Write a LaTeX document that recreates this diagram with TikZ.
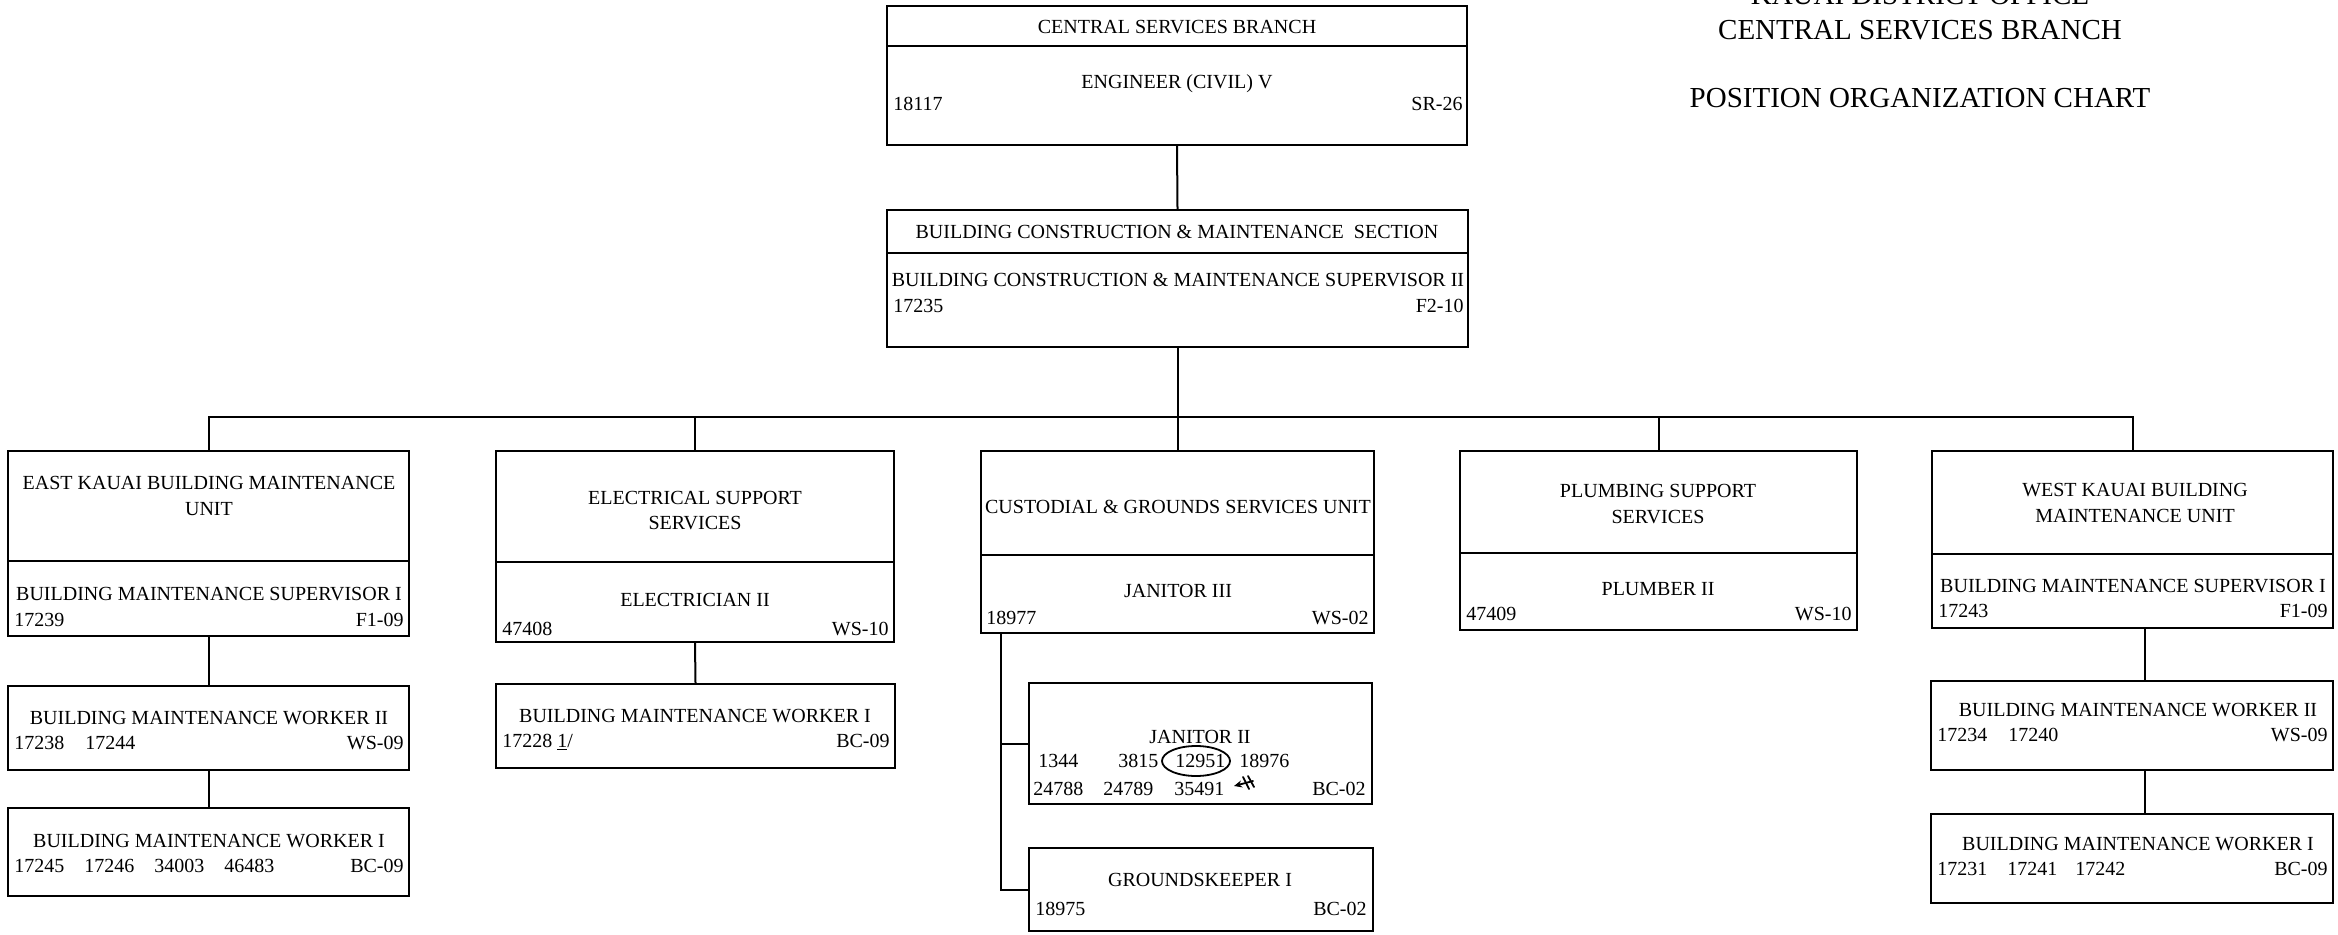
\documentclass[tikz,border=0pt]{standalone}
\usepackage{fontspec}
\setmainfont{Liberation Serif}
\usetikzlibrary{fit,arrows.meta}
\newcommand{\numgap}[1]{\hspace*{#1pt}}
\begin{document}
\begin{tikzpicture}[x=0.5pt,y=-0.5pt,
  box/.style={draw, line width=1.1pt, inner sep=0pt},
  rule/.style={line width=1.1pt},
  link/.style={line width=1pt},
  txt/.style={font=\fontsize{10}{12}\selectfont, inner sep=0pt, anchor=base},
  txtl/.style={txt, anchor=base west},
  txtr/.style={txt, anchor=base east},
  head/.style={font=\fontsize{14.5}{17.4}\selectfont, inner sep=0pt, anchor=base},
  annot/.style={line width=0.9pt, line cap=round, line join=round}]
\fill[white] (0,0) rectangle (2338,935);
\useasboundingbox (0,0) rectangle (2338,935);

% chart heading (first line runs off the top edge)
\node[head] (t1) at (1920,5) {KAUAI DISTRICT OFFICE};
\node[head] (t2) at (1920,40) {CENTRAL SERVICES BRANCH};
\node[head] (t3) at (1920,108) {POSITION ORGANIZATION CHART};

% branch head
\node[box, fit={(887,6) (1467,145)}] (csb) {};
\draw[rule] (887,46) -- (1467,46);
\node[txt] (csbT) at (1177,34) {CENTRAL SERVICES BRANCH};
\node[txt] (csbP) at (1177,89) {ENGINEER (CIVIL) V};
\node[txtl] (csbN) at (893,111) {18117};
\node[txtr] (csbG) at (1463,111) {SR-26};

% section
\node[box, fit={(887,210) (1468,347)}] (bcm) {};
\draw[rule] (887,253) -- (1468,253);
\node[txt] (bcmT) at (1177,239) {BUILDING CONSTRUCTION \& MAINTENANCE\ \ SECTION};
\node[txt] (bcmP) at (1178,287) {BUILDING CONSTRUCTION \& MAINTENANCE SUPERVISOR II};
\node[txtl] (bcmN) at (893,313) {17235};
\node[txtr] (bcmG) at (1464,313) {F2-10};

% east kauai unit
\node[box, fit={(8,451) (409,636)}] (ek) {};
\draw[rule] (8,561) -- (409,561);
\node[txt] (ekT1) at (209,489) {EAST KAUAI BUILDING MAINTENANCE};
\node[txt] (ekT2) at (209,515) {UNIT};
\node[txt] (ekP) at (209,600) {BUILDING MAINTENANCE SUPERVISOR I};
\node[txtl] (ekN) at (14,626) {17239};
\node[txtr] (ekG) at (404,626) {F1-09};

\node[box, fit={(8,686) (409,770)}] (ew2) {};
\node[txt] (ew2T) at (209,724) {BUILDING MAINTENANCE WORKER II};
\node[txtl] (ew2N) at (14,749) {17238\numgap{10.5}17244};
\node[txtr] (ew2G) at (404,749) {WS-09};

\node[box, fit={(8,808) (409,896)}] (ew1) {};
\node[txt] (ew1T) at (209,847) {BUILDING MAINTENANCE WORKER I};
\node[txtl] (ew1N) at (14,872) {17245\numgap{10}17246\numgap{10}34003\numgap{10}46483};
\node[txtr] (ew1G) at (404,872) {BC-09};

% electrical support
\node[box, fit={(496,451) (894,642)}] (el) {};
\draw[rule] (496,562) -- (894,562);
\node[txt] (elT1) at (695,504) {ELECTRICAL SUPPORT};
\node[txt] (elT2) at (695,529) {SERVICES};
\node[txt] (elP) at (695,606) {ELECTRICIAN II};
\node[txtl] (elN) at (502,635) {47408};
\node[txtr] (elG) at (889,635) {WS-10};

\node[box, fit={(496,684) (895,768)}] (elw) {};
\node[txt] (elwT) at (695,722) {BUILDING MAINTENANCE WORKER I};
\node[txtl] (elwN) at (502,747) {17228 \underline{1}/};
\node[txtr] (elwG) at (890,747) {BC-09};

% custodial and grounds
\node[box, fit={(981,451) (1374,633)}] (cu) {};
\draw[rule] (981,555) -- (1374,555);
\node[txt] (cuT) at (1178,513) {CUSTODIAL \& GROUNDS SERVICES UNIT};
\node[txt] (cuP) at (1178,597) {JANITOR III};
\node[txtl] (cuN) at (986,624) {18977};
\node[txtr] (cuG) at (1369,624) {WS-02};

\node[box, fit={(1029,683) (1372,804)}] (j2) {};
\node[txt] (j2T) at (1200,743) {JANITOR II};
\node[txtl] (j2R1) at (1038,767) {1344\numgap{20}3815\numgap{8.5}12951\numgap{7}18976};
\node[txtl] (j2R2) at (1033,795) {24788\numgap{10}24789\numgap{10.5}35491};
\node[txtr] (j2G) at (1366,795) {BC-02};
% pen marks on the janitor list
\draw[annot] (1196,761) ellipse [x radius=34, y radius=15];
\draw[annot, -{Stealth[length=4pt,width=3.5pt]}] (1253,781) -- (1234,786);
\draw[annot] (1243,777) -- (1249,789);
\draw[annot] (1248,776) -- (1254,787);

\node[box, fit={(1029,848) (1373,931)}] (gk) {};
\node[txt] (gkT) at (1200,886) {GROUNDSKEEPER I};
\node[txtl] (gkN) at (1035,915) {18975};
\node[txtr] (gkG) at (1367,915) {BC-02};

% plumbing support
\node[box, fit={(1460,451) (1857,630)}] (pl) {};
\draw[rule] (1460,553) -- (1857,553);
\node[txt] (plT1) at (1658,497) {PLUMBING SUPPORT};
\node[txt] (plT2) at (1658,523) {SERVICES};
\node[txt] (plP) at (1658,595) {PLUMBER II};
\node[txtl] (plN) at (1466,620) {47409};
\node[txtr] (plG) at (1852,620) {WS-10};

% west kauai unit
\node[box, fit={(1932,451) (2333,628)}] (wk) {};
\draw[rule] (1932,554) -- (2333,554);
\node[txt] (wkT1) at (2135,496) {WEST KAUAI BUILDING};
\node[txt] (wkT2) at (2135,522) {MAINTENANCE UNIT};
\node[txt] (wkP) at (2133,592) {BUILDING MAINTENANCE SUPERVISOR I};
\node[txtl] (wkN) at (1938,617) {17243};
\node[txtr] (wkG) at (2328,617) {F1-09};

\node[box, fit={(1931,681) (2333,770)}] (ww2) {};
\node[txt] (ww2T) at (2138,716) {BUILDING MAINTENANCE WORKER II};
\node[txtl] (ww2N) at (1937,741) {17234\numgap{10.5}17240};
\node[txtr] (ww2G) at (2328,741) {WS-09};

\node[box, fit={(1931,814) (2333,903)}] (ww1) {};
\node[txt] (ww1T) at (2138,850) {BUILDING MAINTENANCE WORKER I};
\node[txtl] (ww1N) at (1937,875) {17231\numgap{10}17241\numgap{9}17242};
\node[txtr] (ww1G) at (2328,875) {BC-09};

% reporting lines
\coordinate (bus) at (0,417);
\coordinate (cbx) at (1001,0);
\coordinate (wx) at (2145,0);
\draw[link] (csb.south) -- (bcm.north);
\draw[link] (bcm.south) -- (bcm.south |- bus);
\draw[link] (ek.north) -- (ek.north |- bus) -- (wk.north |- bus) -- (wk.north);
\foreach \u in {el,cu,pl} \draw[link] (\u.north) -- (\u.north |- bus);
\draw[link] (ek.south) -- (ew2.north);
\draw[link] (ew2.south) -- (ew1.north);
\draw[link] (el.south) -- (elw.north);
\draw[link] (cu.south -| cbx) |- (j2.west);
\draw[link] (cu.south -| cbx) |- (gk.west);
\draw[link] (wk.south -| wx) -- (ww2.north -| wx);
\draw[link] (ww2.south -| wx) -- (ww1.north -| wx);
\end{tikzpicture}
\end{document}
